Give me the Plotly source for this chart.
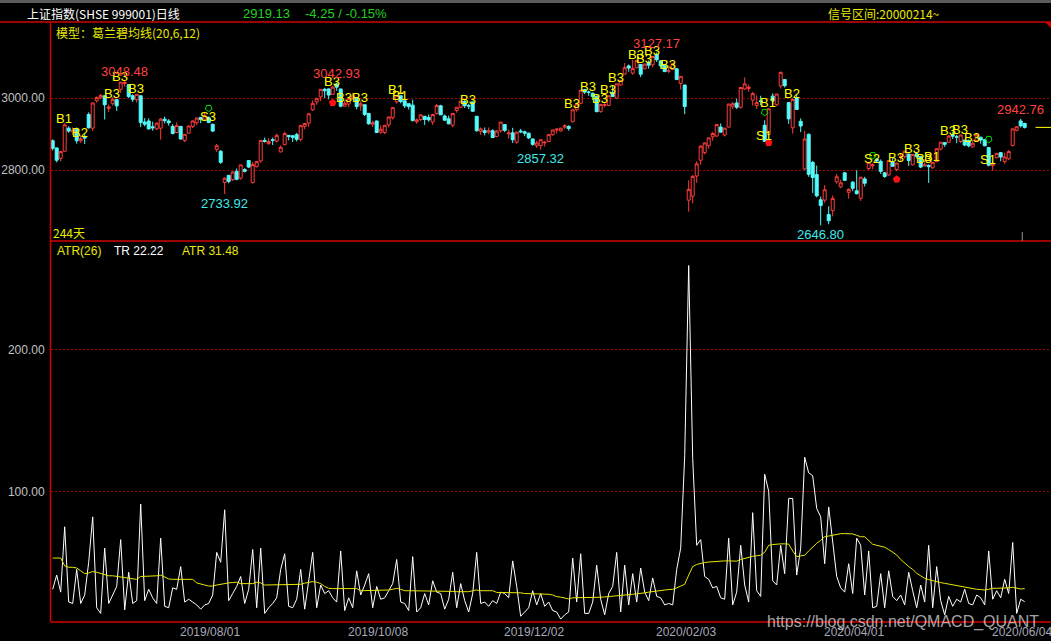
import plotly.graph_objects as go

# ---------------- data ----------------
opens = [2882,2862,2833,2853,2917,2907,2914,2882,2893,2955,2917,2993,3001,3007,2972,2985,2996,3025,3041,3038,
         3007,2996,3007,2934,2937,2921,2915,2917,2942,2937,2922,2905,2922,2883,2903,2922,2932,2947,2942,2946,
         2928,2858,2853,2766,2786,2774,2797,2778,2802,2827,2766,2810,2826,2883,2874,2885,2881,2851,2871,2897,
         2896,2899,2886,2922,2931,2968,2990,3004,3025,3026,3011,3040,3026,2978,2984,3000,3002,2979,2982,2958,
         2928,2937,2906,2905,2926,2946,2990,3007,2993,2985,2981,2935,2941,2950,2947,2934,2958,2979,2951,2943,
         2925,2966,2975,2991,2979,2990,2950,2908,2910,2906,2910,2894,2910,2927,2901,2904,2878,2909,2907,2903,
         2887,2868,2869,2876,2880,2899,2912,2909,2920,2922,2935,2968,2986,3024,3017,3014,3006,2963,2981,2980,
         3016,3000,3037,3067,3090,3070,3085,3094,3082,3100,3093,3122,3104,3092,3076,3080,3082,3041,3037,2717,
         2728,2784,2828,2849,2868,2893,2895,2920,2898,2920,2978,2987,2975,3026,3027,2995,2980,2993,2925,2899,
         3006,2982,3034,3052,2988,2918,3001,2936,2804,2900,2822,2788,2718,2717,2677,2688,2768,2754,2793,2739,
         2767,2743,2722,2776,2805,2813,2831,2825,2793,2787,2822,2802,2836,2838,2845,2815,2846,2838,2812,2814,
         2807,2824,2859,2877,2878,2898,2893,2880,2884,2883,2865,2883,2892,2885,2863,2813,2835,2849,2824,2832,
         2869,2911,2937,2930]
highs = [2886,2863,2854,2931,2922,2919,2919,2897,2900,2961,2988,3005,3012,3009,2983,3003,2998,3046,3048.48,3039,
         3011,3011,3007,2945,2944,2935,2933,2945,2949,2942,2928,2933,2922,2900,2924,2939,2946,2948,2960,2950,
         2929,2873,2856,2780,2787,2797,2805,2815,2806,2828,2823,2826,2883,2891,2889,2891,2902,2869,2907,2898,
         2897,2904,2926,2931,2958,2994,3000,3026,3029,3027,3034,3042.93,3026,2994,3000,3014,3002,2992,2983,2959,
         2938,2938,2925,2925,2949,2976,3009,3008,2994,2985,2996,2944,2955,2951,2955,2957,2984,2982,2955,2952,
         2959,2976,2992,2996,2985,2990,2950,2919,2919,2919,2914,2912,2934,2928,2913,2918,2907,2915,2910,2905,
         2888,2882,2885,2880,2900,2912,2917,2918,2928,2925,2968,2985,3024,3026,3021,3016,3007,2984,2988,3008,
         3037,3040,3050,3098,3094,3107,3105,3095,3096,3105,3116,3127.17,3105,3093,3091,3096,3084,3062,3037,2772,
         2787,2825,2870,2877,2890,2906,2927,2930,2918,2984,2990,2999,3030,3058,3038,3018,3008,3007,2939,2971,
         3014,3012,3074,3053,2989,3000,3010,2944,2910,2902,2826,2813,2727,2759,2700,2730,2790,2774,2794,2750,
         2770,2800,2781,2782,2821,2819,2834,2830,2795,2828,2836,2820,2847,2853,2846,2844,2851,2840,2831,2816,
         2822,2861,2878,2878,2898,2906,2899,2898,2885,2885,2883,2902,2893,2887,2864,2823,2848,2850,2849,2856,
         2916,2922,2942.76,2932]
lows = [2855,2822,2825,2852,2904,2898,2874,2876,2873,2916,2909,2988,2998,2941,2962,2980,2965,3015,3032,3001,
        2990,2988,2920,2922,2913,2910,2912,2885,2930,2924,2900,2903,2885,2878,2902,2917,2926,2931,2940,2931,
        2906,2851,2818,2733.92,2764,2770,2772,2774,2794,2806,2763,2808,2821,2877,2871,2870,2877,2850,2870,2883,
        2879,2880,2880,2914,2920,2965,2982,2992,3001,2997,3010,3021,2975,2978,2975,2996,2969,2965,2951,2927,
        2920,2905,2901,2900,2919,2941,2985,2986,2973,2969,2936,2929,2937,2926,2935,2926,2955,2954,2938,2928,
        2920,2960,2972,2973,2970,2962,2907,2898,2897,2900,2891,2892,2905,2906,2888,2876,2874,2903,2895,2887,
        2868,2862,2857.32,2866,2879,2896,2902,2908,2915,2910,2933,2963,2984,3012,3007,2995,2961,2960,2975,2980,
        3004,2998,3035,3067,3074,3065,3084,3059,3080,3082,3086,3101,3082,3073,3070,3078,3051,3024,2956,2685,
        2708,2765,2815,2844,2860,2882,2894,2905,2894,2919,2970,2970,2971,3024,3018,2980,2970,2981,2880,2899,
        2983,2978,3027,3030,2929,2902,2968,2906,2799,2782,2737,2725,2646.80,2710,2650,2672,2763,2750,2770,2721,
        2742,2733,2715,2755,2800,2803,2822,2790,2779,2785,2810,2797,2825,2833,2812,2814,2833,2806,2812,2765,
        2804,2823,2855,2865,2876,2887,2875,2876,2867,2864,2863,2882,2874,2867,2811,2799,2833,2825,2818,2828,
        2866,2908,2919,2916]
closes = [2861,2828,2852,2926,2909,2911,2882,2888,2890,2918,2987,3002,3008,2982,2976,2997,2979,3045,3044,3005,
          2997,3011,2933,2928,2915,2918,2931,2942,2938,2932,2902,2924,2887,2900,2923,2937,2945,2941,2952,2933,
          2909,2868,2822,2778,2769,2795,2775,2815,2797,2809,2816,2824,2883,2880,2880,2883,2897,2864,2902,2894,
          2891,2886,2924,2930,2957,2986,3000,3025,3021,3009,3031,3031,2978,2986,2999,3006,2977,2985,2955,2929,
          2932,2905,2914,2925,2948,2974,3008,2991,2979,2977,2938,2940,2954,2941,2940,2955,2980,2954,2939,2929,
          2958,2975,2992,2979,2979,2964,2910,2915,2905,2910,2891,2909,2934,2911,2904,2885,2906,2907,2903,2890,
          2872,2876,2885,2878,2899,2912,2914,2917,2924,2916,2968,2984,3022,3017,3017,3005,2963,2983,2982,3007,
          3005,3040,3050,3085,3084,3083,3105,3067,3095,3092,3116,3107,3090,3074,3076,3096,3052,3061,2977,2747,
          2783,2818,2867,2876,2890,2902,2927,2906,2917,2984,2985,2975,3030,3040,3031,3013,2988,2991,2880,2971,
          2993,3012,3072,3035,2943,2997,2969,2923,2887,2789,2780,2729,2702,2746,2660,2722,2782,2765,2772,2747,
          2750,2735,2781,2764,2821,2815,2826,2797,2783,2827,2811,2820,2838,2853,2827,2844,2838,2809,2815,2810,
          2822,2860,2878,2872,2895,2895,2892,2898,2870,2868,2875,2899,2884,2868,2814,2818,2847,2837,2837,2852,
          2915,2921,2923.38,2919.13]

# TR (white line) read per bar
tr = [31,41,29,75,22,21,45,21,27,50,
      82,18,14,60,21,27,33,66,16.5,43,
      21,23,91,23,31,25,21,67,19,18,
      32,31,47,22,24,22,20,17,20,21,
      27,57,50,87,23,28,33,40,21,31,
      59,18,60,14,18,21,25,45,56,19,
      18,24,45,17,38,57,18,34,28,30,
      25,22,58,16,25,18,44,27,34,42,
      18,33,24,25,30,35,52,22,21,16,
      54,15,18,28,20,37,29,28,17,24,
      43,18,35,23,15,28,57,21,22,19,
      23,21,29,28,25,51,33,12,15,18,
      30,20,28,19,22,16,15,10,13,15,
      53,22,56,14,14,22,48,24,13,28,
      33,57,15,48,20,42,22,46,29,23,
      39,26,25,20,21,20,45,60,125,259,
      123,62,66,40,38,32,33,25,24,67,
      20,29,62,34,22,85,30,26,112,100,
      37,34,62,42,95,95,41,60,124,113,
      111,88,82,49,89,63,40,32,29,49,
      28,67,62,27,58,18,19,42,18,44,
      26,23,27,20,43,30,18,34,22,62,
      18,47,23,13,26,19,24,22,31,21,
      20,27,25,20,58,24,30,25,38,28,
      64,14,24,22.22]

# ATR(26) (yellow line) read per bar
atr = [53,53,53,47.5,46.5,46.5,46,44,42,42.5,
       43.5,43,42,41.5,40.5,40.5,40,39.8,39,38.7,
       38.3,38,40,40,40,40.2,40.5,41,39.5,38.3,
       38,38,38,38,38,38,35.5,34.5,34,33.3,
       33.3,34,34.5,35.5,35.5,35.8,36,35,35,35,
       35,36,35.5,34,34,34,34,34,34,34.5,
       34.5,34.5,34.5,35.3,36,36.4,36,35,33,31.7,
       31.5,31.5,31.5,31.5,31.5,31.5,31.5,30,30,30,
       30,30,30,30,30.5,31,31.7,31,30,30,
       30,30,30,30,30,30,29.5,29.5,29.5,29.5,
       29.5,29.3,29.3,29.3,29.3,30,30.5,30,30,30,
       30,28.8,28.8,28.8,28.8,28.5,28.5,28.5,28,28,
       28,27.5,27.5,27.5,27.5,27,25.8,25.5,24.8,24.2,
       25,25,25,25,25,25,25.2,25.4,25.6,25.8,
       26,26.3,26.6,27,27.2,27.5,27.8,28,28.5,29,
       29.5,29.8,30.2,30.5,30.8,31,32,33,34.5,41,
       47,48.5,49.3,49.8,50.2,50.5,50.7,50.8,51,51,
       50.8,50.8,52,52.8,53.5,54.2,54.6,55,57,62,
       62.5,63,63,63,62.8,58,54,54.5,55,58,
       61,63.4,65.5,68,68.5,69.2,69.8,70.2,70.2,70.1,
       70,69,68,68,65,62.7,62,61.5,60.6,59,
       57,55.2,52,49.3,47,45,42.3,40.5,38.7,37.8,
       37,36.3,35.7,35.2,34.7,34.2,33.6,33,32.5,32,
       31.2,31,30.8,30.5,31,31.7,31.7,31.7,31.7,32,
       32.4,32,31.2,31.48]

tick_bars = [40, 82, 121, 159, 201, 243]
tick_labels = ['2019/08/01', '2019/10/08', '2019/12/02', '2020/02/03', '2020/04/01', '2020/06/04']
price_ticks = [2800, 3000]
atr_ticks = [100, 200]

sig_text = ['B1','B2','B3','B3','B3','B3','B3','B3','B1','B1','B3','B3','B3','B3','B3','B3',
            'B3','B3','B3','B3','B1','B2','B3','B3','B3','B1','B3','B3','B3']
sig_bar = [3,7,15,17,21,70,73,77,86,87,104,130,134,137,139,141,
           146,148,150,154,179,185,211,215,218,220,224,227,230]
sell_text = ['S3','S1','S2','S1']
sell_bar = [39,178,205,234]
arrow_bar = [70,179,211]
peak_bars = [18,71,151,242]
trough_bars = [43,122,192]

# ---------------- figure ----------------
n = len(closes)
X = list(range(n))
PX = 4.0              # pixels per bar
XMIN = -0.425
XMAX = XMIN + 1000 / PX
PRICE_RANGE = [2603.6, 3211.9]
ATR_RANGE = [7.96, 276.3]
p_per_px = (PRICE_RANGE[1] - PRICE_RANGE[0]) / 219.0

RED = '#ff3c3c'
CYAN = '#54fcfc'
YEL = '#ffff00'
BORDER = '#d00000'
GRID = '#a00000'
LAT = 'Liberation Sans'
CJK = 'Noto Sans CJK SC'

fig = go.Figure()
fig.add_trace(go.Candlestick(
    x=X, open=opens, high=highs, low=lows, close=closes,
    increasing=dict(line=dict(color=RED, width=1), fillcolor='#000000'),
    decreasing=dict(line=dict(color=CYAN, width=1), fillcolor=CYAN),
    whiskerwidth=0, xaxis='x', yaxis='y', hoverinfo='skip', showlegend=False))

fig.add_trace(go.Scatter(
    x=sell_bar, y=[highs[b] + 8 * p_per_px for b in sell_bar], mode='markers',
    marker=dict(symbol='pentagon-open', angle=180, size=7, color='#00e000', line=dict(width=1)),
    xaxis='x', yaxis='y', hoverinfo='skip', showlegend=False))
fig.add_trace(go.Scatter(
    x=arrow_bar, y=[lows[b] - 8 * p_per_px for b in arrow_bar], mode='markers',
    marker=dict(symbol='pentagon', size=8, color='#ff1010'),
    xaxis='x', yaxis='y', hoverinfo='skip', showlegend=False))

fig.add_trace(go.Scatter(x=X, y=tr, mode='lines', line=dict(color='#ffffff', width=1),
                         xaxis='x2', yaxis='y2', hoverinfo='skip', showlegend=False))
fig.add_trace(go.Scatter(x=X, y=atr, mode='lines', line=dict(color='#e8e800', width=1),
                         xaxis='x2', yaxis='y2', hoverinfo='skip', showlegend=False))

ann = []
for t, b in zip(sig_text, sig_bar):
    ann.append(dict(x=b, y=closes[b], xref='x', yref='y', text=t, showarrow=False,
                    xshift=-1, yshift=6, yanchor='middle', font=dict(family=LAT, size=13, color=YEL)))
for t, b in zip(sell_text, sell_bar):
    ann.append(dict(x=b, y=closes[b], xref='x', yref='y', text=t, showarrow=False,
                    xshift=-1, yshift=6, yanchor='middle', font=dict(family=LAT, size=13, color=YEL)))
for b in peak_bars:
    ann.append(dict(x=b, y=highs[b], xref='x', yref='y', text=f'{highs[b]:.2f}', showarrow=False,
                    yshift=9, yanchor='middle', font=dict(family=LAT, size=13, color='#ff4040')))
for b in trough_bars:
    ann.append(dict(x=b, y=lows[b], xref='x', yref='y', text=f'{lows[b]:.2f}', showarrow=False,
                    yshift=-9, yanchor='middle', font=dict(family=LAT, size=13, color='#40e8e8')))


def px(xp):
    return (xp - 51) / 1000.0


def py(yp):
    return (622 - yp) / 600.0


for b, lab in zip(tick_bars, tick_labels):
    ann.append(dict(x=b, y=py(632), xref='x2', yref='paper', text=lab, showarrow=False,
                    xshift=-3, xanchor='center', yanchor='middle',
                    font=dict(family=LAT, size=12, color='#a8a8b8')))

last = closes[-1]
chg = closes[-1] - closes[-2]
hdr = [
    ('上证指数(SHSE 999001)日线', 25, 13, '#ffffff', CJK, 12),
    (f'{last:.2f}', 241, 13, '#22d022', LAT, 13),
    (f'{chg:.2f} / {chg / closes[-2] * 100:.2f}%', 303, 13, '#22d022', LAT, 13),
    ('信号区间:20000214~', 826, 14, '#e8e800', CJK, 12),
    ('模型：葛兰碧均线(20,6,12)', 54, 33, '#e8e800', CJK, 12),
    ('244天', 51, 232, '#e8e800', CJK, 12),
    ('ATR(26)', 55, 251, '#e8e800', LAT, 12),
    (f'TR {tr[-1]:.2f}', 112, 251, '#ffffff', LAT, 12),
    (f'ATR {atr[-1]:.2f}', 180, 251, '#e8e800', LAT, 12),
]
for t, xp, yp, c, f, s in hdr:
    ann.append(dict(x=px(xp), y=py(yp), xref='paper', yref='paper', text=t, showarrow=False,
                    xanchor='left', yanchor='middle', font=dict(family=f, size=s, color=c)))
ann.append(dict(x=px(1041), y=py(622), xref='paper', yref='paper', text='https://blog.csdn.net/QMACD_QUANT',
                showarrow=False, xanchor='right', yanchor='middle',
                font=dict(family=LAT, size=16, color='rgba(255,255,255,0.65)')))

shapes = [
    dict(type='rect', xref='paper', yref='paper', x0=px(0), x1=px(1051), y0=py(0), y1=py(3),
         fillcolor='#5a5a5a', line=dict(width=0), layer='above'),
    dict(type='line', xref='paper', yref='paper', x0=px(0), x1=px(1051), y0=py(22), y1=py(22),
         line=dict(color=BORDER, width=1.5)),
    dict(type='line', xref='paper', yref='paper', x0=px(51), x1=px(1051), y0=py(241), y1=py(241),
         line=dict(color=BORDER, width=1.5)),
    dict(type='line', xref='paper', yref='paper', x0=px(51), x1=px(1051), y0=py(622), y1=py(622),
         line=dict(color=BORDER, width=1.5)),
    dict(type='line', xref='paper', yref='paper', x0=px(50.5), x1=px(50.5), y0=py(22), y1=py(622),
         line=dict(color=BORDER, width=1.5)),
    dict(type='path', xref='paper', yref='paper',
         path=f'M {px(1045)},{py(22)} L {px(1051)},{py(22)} L {px(1051)},{py(28)} Z',
         fillcolor=BORDER, line=dict(width=0)),
    dict(type='line', xref='x', yref='y', x0=n - 1 + 2.7, x1=XMAX, y0=last, y1=last,
         line=dict(color=YEL, width=1)),
    dict(type='line', xref='x', yref='paper', x0=n - 1 - 0.6, x1=n - 1 - 0.6, y0=py(241), y1=py(232),
         line=dict(color='#909090', width=1)),
]

axis_common = dict(range=[XMIN, XMAX], showgrid=False, zeroline=False, showticklabels=False,
                   showline=False, ticks='', fixedrange=True)
fig.update_layout(
    width=1051, height=641, autosize=False,
    margin=dict(l=51, r=0, t=22, b=19, pad=0),
    paper_bgcolor='#000000', plot_bgcolor='#000000',
    boxgap=0.25, boxgroupgap=0,
    xaxis=dict(**axis_common, anchor='y', rangeslider=dict(visible=False)),
    xaxis2=dict(**axis_common, anchor='y2'),
    yaxis=dict(domain=[py(241), 1.0], range=PRICE_RANGE, tickvals=price_ticks,
               ticktext=[f'{v:.2f}' for v in price_ticks], showgrid=True, gridcolor=GRID,
               griddash='2px,2px', gridwidth=1, zeroline=False, showline=False, ticks='outside',
               ticklen=3, tickcolor='rgba(0,0,0,0)', tickfont=dict(family=LAT, size=12, color='#c0c0c0'),
               fixedrange=True),
    yaxis2=dict(domain=[0.0, py(241)], range=ATR_RANGE, tickvals=atr_ticks,
                ticktext=[f'{v:.2f}' for v in atr_ticks], showgrid=True, gridcolor=GRID,
                griddash='2px,2px', gridwidth=1, zeroline=False, showline=False, ticks='outside',
                ticklen=3, tickcolor='rgba(0,0,0,0)', tickfont=dict(family=LAT, size=12, color='#c0c0c0'),
                fixedrange=True),
    annotations=ann, shapes=shapes, showlegend=False,
)
fig.write_html('out.html', config={'displayModeBar': False},
               post_script="document.body.style.margin='0';document.body.style.background='#000';")
